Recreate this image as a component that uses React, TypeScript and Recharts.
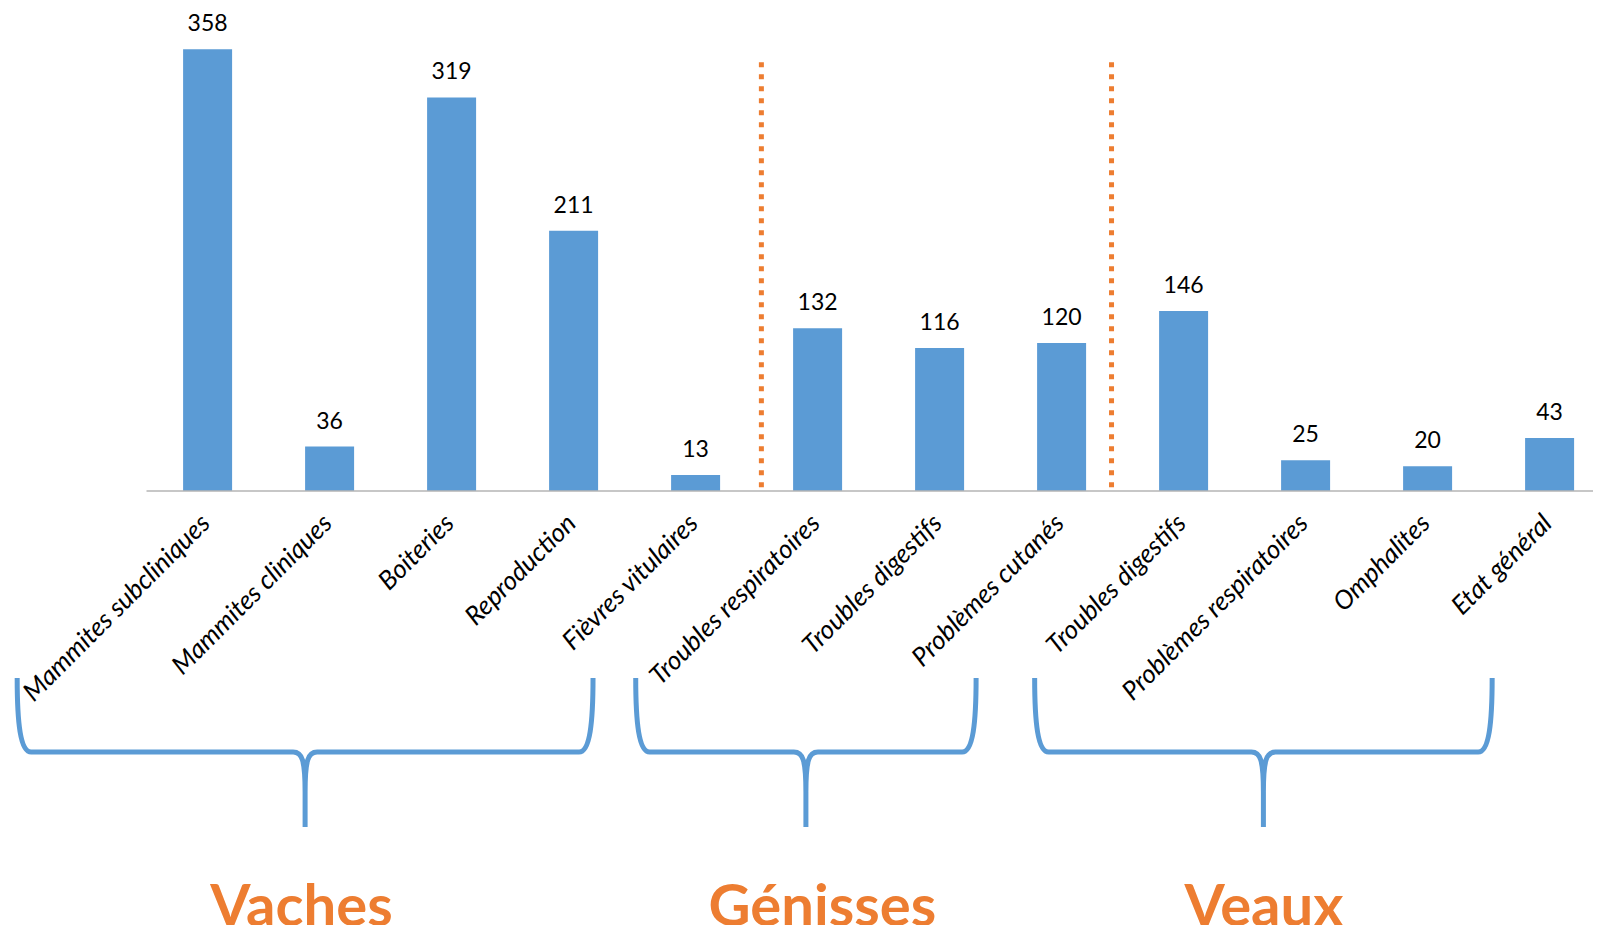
import { BarChart, Bar, XAxis, YAxis, ReferenceLine, ReferenceDot, LabelList } from 'recharts';

// cases per health problem, grouped by animal type
const categories = [
  'Mammites subcliniques',
  'Mammites cliniques',
  'Boiteries',
  'Reproduction',
  'Fièvres vitulaires',
  'Troubles respiratoires',
  'Troubles digestifs',
  'Problèmes cutanés',
  'Troubles digestifs',
  'Problèmes respiratoires',
  'Omphalites',
  'Etat général',
];
const cases = [358, 36, 319, 211, 13, 132, 116, 120, 146, 25, 20, 43];

// group annotations, x in category slots (0 = left edge of first slot)
const groupNames = ['Vaches', 'Génisses', 'Veaux'];
const groupFrom = [-1.06, 4.01, 7.28];
const groupTo = [3.66, 6.8, 11.03];
const groupTitleAt = [1.27, 5.54, 9.16];
const dividerAt = [5.04, 7.91];

const BLUE = '#5b9bd5';
const ORANGE = '#ed7d31';
const FONT = 'Lato, "Open Sans", sans-serif';

// value-axis levels used for the annotations below the axis
const Y_MAX = 398;
const DIVIDER_LOW = 3;
const DIVIDER_HIGH = 351;
const BRACE_LEVEL = -211.6;
const TITLE_LEVEL = -353;

// slot = centre of each category slot on the hidden numeric axis
const data = categories.map((name, i) => ({ name, cases: cases[i], slot: i + 0.5 }));

function CategoryTick({ x, y, payload }: any) {
  const tx = x + 4;
  const ty = y + 34;
  return (
    <text
      x={tx}
      y={ty}
      transform={`rotate(-45 ${tx} ${ty})`}
      textAnchor="end"
      fontStyle="italic"
      fontSize={26}
      fontFamily={FONT}
      fill="#000"
    >
      {payload.value}
    </text>
  );
}

function Brace(props: any) {
  const { x1, x2, y1: y } = props;
  const l = Math.min(x1, x2);
  const r = Math.max(x1, x2);
  const c = (l + r) / 2;
  const top = y - 74;
  const tip = y + 75;
  const d = [
    `M ${l} ${top} C ${l} ${y - 30} ${l + 3} ${y} ${l + 14} ${y}`,
    `L ${c - 12} ${y} C ${c - 3} ${y} ${c} ${y + 8} ${c} ${y + 40} L ${c} ${tip}`,
    `M ${r} ${top} C ${r} ${y - 30} ${r - 3} ${y} ${r - 14} ${y}`,
    `L ${c + 12} ${y} C ${c + 3} ${y} ${c} ${y + 8} ${c} ${y + 40}`,
  ].join(' ');
  return <path d={d} fill="none" stroke={BLUE} strokeWidth={5} strokeLinejoin="round" />;
}

const groupTitle = (label: string) => (p: any) => (
  <text
    x={p.cx}
    y={p.cy}
    textAnchor="middle"
    fill={ORANGE}
    fontSize={58}
    fontWeight={700}
    fontFamily={FONT}
  >
    {label}
  </text>
);

export default function App() {
  return (
    <div style={{ width: 1601, height: 933, margin: -8, overflow: 'hidden', background: '#fff', fontFamily: FONT }}>
      <BarChart
        width={1625}
        height={933}
        data={data}
        barCategoryGap="30%"
        margin={{ top: 0, right: 14.5, left: 146.5, bottom: 412 }}
      >
        <XAxis
          dataKey="name"
          height={30}
          tickLine={false}
          tickSize={0}
          tickMargin={0}
          interval={0}
          axisLine={{ stroke: '#b4b4b4', strokeWidth: 1.5 }}
          tick={<CategoryTick />}
        />
        <XAxis xAxisId="slot" dataKey="slot" type="number" domain={[0, 12]} allowDataOverflow hide />
        <YAxis domain={[0, Y_MAX]} allowDataOverflow hide />
        <Bar dataKey="cases" fill={BLUE} isAnimationActive={false}>
          <LabelList dataKey="cases" position="top" offset={18} fill="#000" fontSize={23} fontFamily={FONT} />
        </Bar>
        {dividerAt.map((x) => (
          <ReferenceLine
            key={`div-${x}`}
            xAxisId="slot"
            segment={[{ x, y: DIVIDER_LOW }, { x, y: DIVIDER_HIGH }]}
            stroke={ORANGE}
            strokeWidth={5}
            strokeDasharray="5 7"
            ifOverflow="visible"
          />
        ))}
        {groupNames.map((g, i) => (
          <ReferenceLine
            key={`brace-${g}`}
            xAxisId="slot"
            segment={[{ x: groupFrom[i], y: BRACE_LEVEL }, { x: groupTo[i], y: BRACE_LEVEL }]}
            ifOverflow="visible"
            shape={Brace}
          />
        ))}
        {groupNames.map((g, i) => (
          <ReferenceDot
            key={`title-${g}`}
            xAxisId="slot"
            x={groupTitleAt[i]}
            y={TITLE_LEVEL}
            ifOverflow="visible"
            shape={groupTitle(g)}
          />
        ))}
      </BarChart>
    </div>
  );
}
